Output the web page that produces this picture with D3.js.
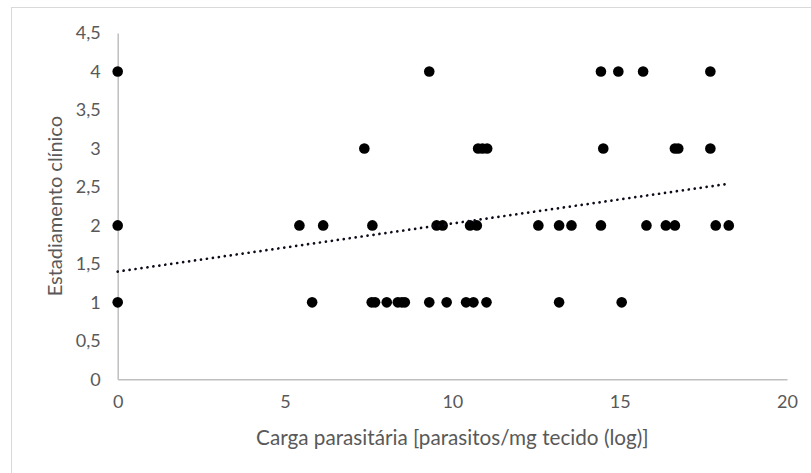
<!DOCTYPE html>
<html>
<head>
<meta charset="utf-8">
<script src="https://cdn.jsdelivr.net/npm/d3@7"></script>
<style>
  html, body { margin: 0; padding: 0; background: #fff; }
  svg { display: block; }
  text { font-family: Lato, "Open Sans", sans-serif; fill: #595959; }
</style>
</head>
<body>
<svg id="chart" width="811" height="473"></svg>
<script>
// Carga parasitária (log) and clinical stage of each sample
const stage1Load = [0, 5.81, 7.59, 7.69, 8.04, 8.37, 8.49, 8.58, 9.31, 9.83, 10.41, 10.63, 11.02, 13.19, 15.06];
const stage2Load = [0, 5.43, 6.14, 7.61, 9.53, 9.71, 10.53, 10.73, 12.57, 13.19, 13.56, 14.44, 15.80, 16.38, 16.65, 17.87, 18.26];
const stage3Load = [7.37, 10.77, 10.90, 11.04, 14.51, 16.65, 16.75, 17.71];
const stage4Load = [0, 9.31, 14.44, 14.96, 15.70, 17.71];
const stages = [1, 2, 3, 4];

// Linear trendline (intercept, slope)
const trendIntercept = 1.40;
const trendSlope = 0.0625;

const xTicks = [0, 5, 10, 15, 20];
const yTicks = [0, 0.5, 1, 1.5, 2, 2.5, 3, 3.5, 4, 4.5];

const xTitle = "Carga parasitária [parasitos/mg tecido (log)]";
const yTitle = "Estadiamento clínico";

const points = [stage1Load, stage2Load, stage3Load, stage4Load]
  .flatMap((loads, i) => loads.map(v => ({ x: v, y: stages[i] })));

const svg = d3.select("#chart");

// outer chart border
svg.append("rect")
  .attr("x", 11.5).attr("y", 7.5)
  .attr("width", 820).attr("height", 480)
  .attr("fill", "none").attr("stroke", "#d9d9d9").attr("stroke-width", 1);

const x = d3.scaleLinear().domain([0, 20]).range([117.7, 787]);
const y = d3.scaleLinear().domain([0, 4.5]).range([379.3, 33]);

const comma = d => String(d).replace(".", ",");

// y axis
const gy = svg.append("g")
  .attr("transform", `translate(${x(0)},0)`)
  .call(d3.axisLeft(y).tickValues(yTicks).tickSize(0).tickPadding(17).tickFormat(comma));
gy.select(".domain").attr("stroke", "#bfbfbf").attr("stroke-width", 1.5);
gy.selectAll("text").attr("font-size", 18).style("font-family", "Lato").attr("fill", "#595959");

// x axis
const gx = svg.append("g")
  .attr("transform", `translate(0,${y(0)})`)
  .call(d3.axisBottom(x).tickValues(xTicks).tickSize(0).tickPadding(16).tickFormat(comma));
gx.select(".domain").attr("stroke", "#bfbfbf").attr("stroke-width", 1.5);
gx.selectAll("text").attr("font-size", 18).style("font-family", "Lato").attr("fill", "#595959");

// points
svg.append("g").selectAll("circle")
  .data(points)
  .join("circle")
  .attr("cx", d => x(d.x))
  .attr("cy", d => y(d.y))
  .attr("r", 5.3)
  .attr("fill", "#000");

// dotted linear trendline across the data range
const xMax = d3.max(points, d => d.x);
const trend = [0, xMax].map(v => ({ x: v, y: trendIntercept + trendSlope * v }));
svg.append("path")
  .datum(trend)
  .attr("d", d3.line().x(d => x(d.x)).y(d => y(d.y)))
  .attr("fill", "none")
  .attr("stroke", "#0b0b1a")
  .attr("stroke-width", 2.7)
  .attr("stroke-linecap", "round")
  .attr("stroke-dasharray", "0.01 6");

// axis titles
svg.append("text")
  .attr("x", (x(0) + x(20)) / 2)
  .attr("y", 445)
  .attr("text-anchor", "middle")
  .attr("font-size", 20.7)
  .text(xTitle);

svg.append("text")
  .attr("transform", `translate(62,${(y(0) + y(4.5)) / 2}) rotate(-90)`)
  .attr("text-anchor", "middle")
  .attr("font-size", 20)
  .text(yTitle);
</script>
</body>
</html>
